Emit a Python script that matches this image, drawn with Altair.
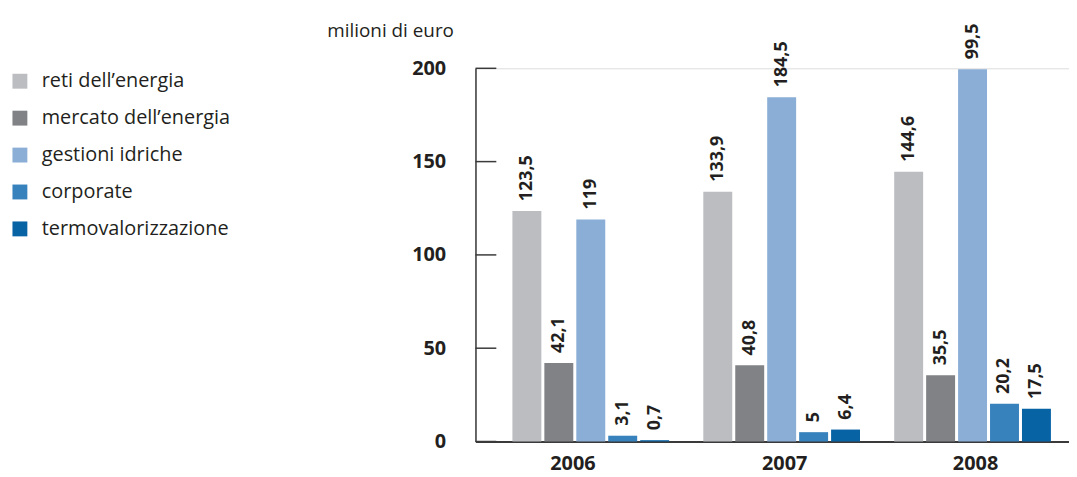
import altair as alt
import pandas as pd

years = ["2006", "2007", "2008"]
categories = ["reti dell’energia", "mercato dell’energia", "gestioni idriche",
              "corporate", "termovalorizzazione"]
colors = ["#bcbdc1", "#808285", "#8aaed5", "#3782bd", "#0863a5"]

reti = [123.5, 133.9, 144.6]
mercato = [42.1, 40.8, 35.5]
gestioni = [119.0, 184.5, 199.5]
corporate = [3.1, 5.0, 20.2]
termo = [0.7, 6.4, 17.5]

labels_reti = ["123,5", "133,9", "144,6"]
labels_mercato = ["42,1", "40,8", "35,5"]
labels_gestioni = ["119", "184,5", "99,5"]
labels_corporate = ["3,1", "5", "20,2"]
labels_termo = ["0,7", "6,4", "17,5"]

y_ticks = [0, 50, 100, 150, 200]

series = [reti, mercato, gestioni, corporate, termo]
series_labels = [labels_reti, labels_mercato, labels_gestioni, labels_corporate, labels_termo]

rows = []
for cat, vals, labs in zip(categories, series, series_labels):
    for yr, v, lab in zip(years, vals, labs):
        rows.append({"year": yr, "cat": cat, "value": v, "label": lab})
df = pd.DataFrame(rows)
tick_df = pd.DataFrame({"v": y_ticks})

FONT = "Open Sans"
INK = "#231f20"
AXIS = "#3a3a3a"

x_enc = alt.X(
    "year:N",
    sort=years,
    scale=alt.Scale(paddingInner=0.179, paddingOuter=0.1935),
    axis=alt.Axis(
        title=None, ticks=False, tickSize=0, labelAngle=0,
        labelFont=FONT, labelFontSize=20, labelFontWeight="bold", labelColor=INK,
        labelPadding=22, labelBaseline="middle",
        labelOffset={"condition": {"test": "datum.value == '2006'", "value": -18}, "value": 3},
        domainColor=AXIS, domainWidth=2,
    ),
)
xoff_enc = alt.XOffset("cat:N", sort=categories,
                       scale=alt.Scale(paddingInner=0.094, paddingOuter=0))
y_enc = alt.Y(
    "value:Q",
    scale=alt.Scale(domain=[0, 200], nice=False),
    axis=alt.Axis(
        title="milioni di euro", titleAngle=0, titleAlign="center", titleBaseline="alphabetic",
        titleX=-86, titleY=-32, titleFont=FONT, titleFontSize=19, titleFontWeight="normal",
        titleColor=INK,
        values=y_ticks, ticks=False, tickSize=0, labelPadding=30,
        labelFont=FONT, labelFontSize=20, labelFontWeight="bold", labelColor=INK,
        domainColor=AXIS, domainWidth=1.5, grid=False,
    ),
)

base = alt.Chart(df)

bars = base.mark_bar().encode(
    x=x_enc,
    xOffset=xoff_enc,
    y=y_enc,
    color=alt.Color(
        "cat:N", sort=categories,
        scale=alt.Scale(domain=categories, range=colors),
        legend=alt.Legend(
            title=None, orient="none", legendX=-469, legendY=3,
            symbolType="square", symbolSize=225, symbolStrokeWidth=0,
            labelFont=FONT, labelFontSize=20, labelColor=INK, labelOffset=12,
            rowPadding=17.2, padding=0, labelLimit=400,
        ),
    ),
)

text = base.mark_text(
    angle=270, align="left", baseline="middle", dx=10,
    font=FONT, fontSize=18, fontWeight="bold", color=INK,
).encode(x=x_enc, xOffset=xoff_enc, y=y_enc, text="label:N")

ticks = alt.Chart(tick_df).mark_rule(color=AXIS, strokeWidth=1.5).encode(
    y=alt.Y("v:Q"), x=alt.value(0), x2=alt.value(21)
)

chart = alt.layer(bars, text, ticks).properties(
    width=617, height=376,
    autosize=alt.AutoSizeParams(type="none"),
    padding={"left": 471, "top": 59, "right": -19, "bottom": 34},
).configure_view(stroke=None).configure(background="white")

chart.save("out.html", embed_options={"renderer": "svg", "actions": False})
